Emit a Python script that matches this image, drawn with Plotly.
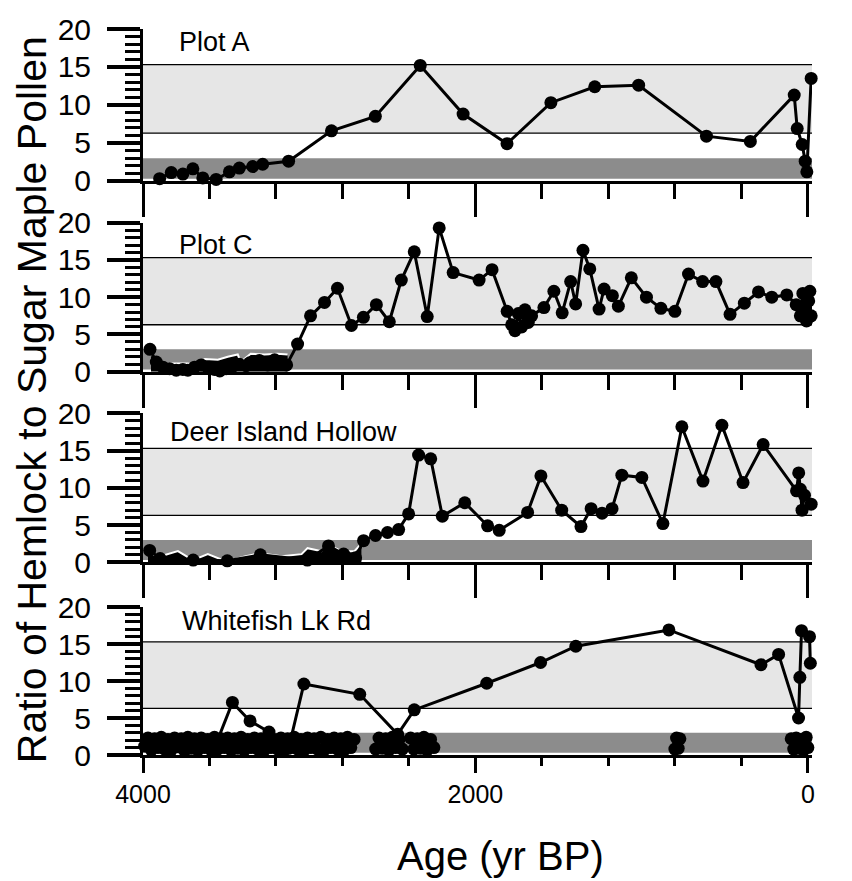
import plotly.graph_objects as go

# ---------------- data ----------------
panel_names = ["Plot A", "Plot C", "Deer Island Hollow", "Whitefish Lk Rd"]

a_age = [3900, 3830, 3760, 3700, 3640, 3560, 3480, 3420, 3340, 3280, 3124, 2866, 2602, 2332,
         2074, 1810, 1546, 1282, 1018, 610, 346, 82, 64, 34, 16, 6, -20]
a_val = [0.3, 1.1, 0.9, 1.6, 0.4, 0.2, 1.2, 1.7, 1.9, 2.2, 2.6, 6.6, 8.5, 15.2,
         8.8, 4.9, 10.3, 12.4, 12.6, 5.9, 5.2, 11.3, 6.9, 4.8, 2.6, 1.2, 13.5]

c_age = [3958, 3920, 3880, 3840, 3800, 3760, 3730, 3690, 3650, 3610, 3570, 3538, 3500, 3460,
         3420, 3380, 3358, 3300, 3250, 3208, 3170, 3136, 3070, 2992, 2908, 2830, 2746, 2674,
         2596, 2518, 2446, 2368, 2290, 2218, 2134, 1978, 1900, 1809, 1782, 1762, 1742, 1722,
         1702, 1682, 1662, 1588, 1528, 1478, 1427, 1397, 1353, 1312, 1256, 1226, 1176, 1140,
         1062, 971, 884, 800, 718, 633, 553, 468, 382, 297, 217, 127, 70, 45, 30, 18, 8,
         -5, -12, -20]
c_val = [3.0, 1.3, 0.6, 0.4, 0.2, 0.3, 0.2, 0.6, 0.9, 0.5, 0.3, 0.1, 0.4, 0.7,
         1.0, 0.8, 1.2, 1.5, 0.9, 1.6, 1.0, 0.9, 3.7, 7.5, 9.3, 11.2, 6.2, 7.3,
         9.0, 6.7, 12.3, 16.1, 7.4, 19.3, 13.3, 12.3, 13.7, 8.1, 6.3, 5.5, 7.8, 6.0,
         8.3, 6.6, 7.5, 8.6, 10.8, 7.9, 12.1, 9.1, 16.3, 13.8, 8.4, 11.1, 10.2, 8.8,
         12.6, 10.0, 8.5, 8.1, 13.1, 12.1, 12.1, 7.7, 9.2, 10.7, 10.0, 10.3, 9.0, 7.5, 10.5, 8.0, 6.8,
         9.5, 10.8, 7.5]
# upper edge of the dark trace in the early part of Plot C
c_env_age = [3952, 3880, 3730, 3682, 3628, 3550, 3490, 3430, 3412, 3352, 3268, 3190, 3130]
c_env_val = [2.3, 1.1, 1.1, 0.9, 1.7, 1.6, 2.0, 2.3, 1.3, 2.4, 2.3, 2.4, 2.3]

d_age = [3960, 3897, 3698, 3493, 3294, 3011, 2884, 2793, 2721, 2673, 2601, 2529, 2462, 2402,
         2342, 2269, 2199, 2064, 1927, 1857, 1686, 1606, 1481, 1365, 1304, 1238, 1178, 1119,
         999, 872, 758, 631, 517, 390, 269, 68, 55, 45, 35, 20, -20]
d_val = [1.6, 0.5, 0.3, 0.2, 1.0, 0.3, 2.2, 1.1, 0.6, 2.9, 3.6, 4.0, 4.4, 6.5,
         14.4, 13.9, 6.2, 8.0, 4.9, 4.3, 6.7, 11.6, 7.0, 4.8, 7.2, 6.6, 7.2, 11.7,
         11.4, 5.2, 18.2, 10.9, 18.4, 10.7, 15.8, 9.6, 12.0, 9.8, 7.0, 9.0, 7.8]
d_env_age = [3970, 3898, 3790, 3700, 3610, 3496, 3388, 3298, 3166, 3046, 3010, 2926, 2890,
             2806, 2728, 2686]
d_env_val = [1.2, 0.8, 1.5, 0.3, 1.1, 0.1, 0.8, 1.2, 0.8, 1.1, 1.9, 1.5, 2.4,
             1.5, 1.5, 2.5]

w_age = [3560, 3462, 3356, 3242, 3124, 3032, 2696, 2468, 2368, 1932, 1608, 1396, 836, 282,
         176, 56, 48, 38, -10, -15]
w_val = [1.5, 7.1, 4.6, 3.1, 0.9, 9.6, 8.2, 2.8, 6.1, 9.7, 12.5, 14.7, 16.9, 12.2,
         13.6, 5.0, 10.5, 16.8, 16.0, 12.4]

# Whitefish Lk Rd: dense low-ratio samples (None separates runs)
wd_age = [3990, 3970, 3950, 3930, 3910, 3890, 3870, 3850, 3830, 3810, 3790, 3770, 3750, 3730,
          3710, 3690, 3670, 3650, 3630, 3610, 3590, 3570, 3550, 3530, 3510, 3490, 3470, 3450,
          3430, 3410, 3390, 3370, 3350, 3330, 3310, 3290, 3270, 3250, 3230, 3210, 3190, 3170,
          3150, 3130, 3110, 3090, 3070, 3050, 3030, 3010, 2990, 2970, 2950, 2930, 2910, 2890,
          2870, 2850, 2830, 2810, 2790, 2770, 2750, 2730, None,
          2600, 2580, 2560, 2540, 2520, 2500, 2480, 2460, 2440, None,
          2390, 2370, 2350, 2330, 2310, 2290, 2270, 2250, None,
          800, 790, 780, 770, None,
          100, 85, 70, 55, 40, 25, 10, 0]
wd_val = [1.2, 2.3, 0.7, 2.2, 1.0, 2.4, 0.8, 2.1, 0.7, 2.3, 1.1, 2.2, 0.6, 2.4,
          0.9, 2.2, 0.7, 2.3, 1.0, 2.1, 0.7, 2.4, 0.8, 2.2, 1.0, 2.3, 0.7, 2.2,
          0.9, 2.4, 0.7, 2.1, 1.0, 2.3, 0.8, 2.2, 0.7, 2.4, 1.0, 2.1, 0.8, 2.3,
          0.7, 2.2, 1.0, 2.4, 0.8, 2.1, 0.7, 2.3, 1.0, 2.2, 0.8, 2.4, 0.7, 2.1,
          1.0, 2.3, 0.8, 2.2, 0.7, 2.4, 1.0, 2.1, None,
          0.8, 2.3, 0.9, 2.2, 0.7, 2.4, 1.0, 2.1, 0.8, None,
          2.3, 0.8, 2.2, 0.9, 2.4, 0.7, 2.1, 1.0, None,
          0.8, 2.3, 0.9, 2.2, None,
          2.2, 0.8, 2.3, 0.9, 2.1, 0.7, 2.4, 1.0]

series = [(a_age, a_val), (c_age, c_val), (d_age, d_val), (w_age, w_val)]
envelopes = {1: (c_env_age, c_env_val), 2: (d_env_age, d_env_val)}

y_ticks = [0, 5, 10, 15, 20]
x_ticks = [4000, 2000, 0]
x_tick_labels = ["4000", "2000", "0"]

band_light = (6.3, 15.3)
band_dark = (0.3, 3.0)

# ---------------- figure ----------------
FONT = "Liberation Sans, Arial, Helvetica, sans-serif"
fig = go.Figure()

domains = [[0.7907, 1.0], [0.528, 0.7332], [0.2654, 0.4706], [0.0, 0.2038]]
label_y = [0.915, 0.85, 0.873, 0.906]
label_x = [0.051, 0.051, 0.037, 0.055]

mk = dict(color="black", size=13)
for i, (ages, vals) in enumerate(series):
    n = i + 1
    xa = "x" if n == 1 else f"x{n}"
    ya = "y" if n == 1 else f"y{n}"
    if i in envelopes:
        ea, ev = envelopes[i]
        fig.add_trace(go.Scatter(x=ea, y=ev, mode="lines", xaxis=xa, yaxis=ya,
                                 fill="tozeroy", fillcolor="black",
                                 line=dict(color="white", width=2),
                                 showlegend=False, hoverinfo="skip"))
    fig.add_trace(go.Scatter(x=ages, y=vals, mode="lines+markers", xaxis=xa, yaxis=ya,
                             line=dict(color="black", width=3), marker=mk,
                             showlegend=False, cliponaxis=False))
    if n == 4:
        fig.add_trace(go.Scatter(x=wd_age, y=wd_val, mode="lines+markers", xaxis=xa, yaxis=ya,
                                 line=dict(color="black", width=3), marker=mk,
                                 connectgaps=False, showlegend=False, cliponaxis=False))

layout = dict(width=852, height=881, plot_bgcolor="white", paper_bgcolor="white",
              margin=dict(l=143, r=40, t=24, b=126), showlegend=False,
              font=dict(family=FONT, color="black"))

shapes = []
annotations = []
for i in range(4):
    n = i + 1
    sx = "" if n == 1 else str(n)
    bottom = (n == 4)
    layout[f"xaxis{sx}"] = dict(
        domain=[0, 1], anchor=f"y{sx}", range=[4000, -25],
        showline=True, linewidth=3, linecolor="black", mirror=False,
        ticks="outside", tickmode="array", tickvals=x_ticks, ticktext=x_tick_labels,
        ticklen=15 if bottom else 33, tickwidth=3, tickcolor="black",
        minor=dict(tickmode="linear", tick0=0, dtick=400, ticks="outside",
                   ticklen=8 if bottom else 15, tickwidth=3, tickcolor="black"),
        showticklabels=bottom, tickfont=dict(size=25, family=FONT),
        showgrid=False, zeroline=False)
    layout[f"yaxis{sx}"] = dict(
        domain=domains[i], anchor=f"x{sx}", range=[0, 20],
        showline=True, linewidth=3, linecolor="black",
        ticks="outside", tickmode="array", tickvals=y_ticks,
        ticklen=33, tickwidth=4, tickcolor="black",
        minor=dict(tickmode="linear", tick0=0, dtick=1, ticks="outside",
                   ticklen=15, tickwidth=2.5, tickcolor="black"),
        tickfont=dict(size=30, family=FONT), ticklabelstandoff=10,
        showgrid=False, zeroline=False)
    layout[f"yaxis{n + 4}"] = dict(
        overlaying=f"y{sx}", anchor=f"x{sx}", side="right", range=[0, 20],
        showline=True, linewidth=3, linecolor="black",
        ticks="outside", tickmode="array", tickvals=y_ticks,
        ticklen=38, tickwidth=4, tickcolor="black",
        minor=dict(tickmode="linear", tick0=0, dtick=1, ticks="outside",
                   ticklen=20, tickwidth=3, tickcolor="black"),
        showticklabels=False, showgrid=False, zeroline=False)

    xd = f"x{sx} domain"
    yr = f"y{sx}"
    shapes.append(dict(type="rect", xref=xd, yref=yr, x0=0, x1=1,
                       y0=band_light[0], y1=band_light[1], fillcolor="#e6e6e6",
                       line=dict(width=0), layer="below"))
    shapes.append(dict(type="rect", xref=xd, yref=yr, x0=0, x1=1,
                       y0=band_dark[0], y1=band_dark[1], fillcolor="#8c8c8c",
                       line=dict(width=0), layer="below"))
    for yv in band_light:
        shapes.append(dict(type="line", xref=xd, yref=yr, x0=0, x1=1, y0=yv, y1=yv,
                           line=dict(color="black", width=1.3), layer="below"))
    annotations.append(dict(text=panel_names[i], xref="paper", yref=f"y{sx} domain",
                            x=label_x[i], y=label_y[i], xanchor="left", yanchor="middle",
                            showarrow=False, font=dict(size=27, family=FONT)))

annotations.append(dict(text="Ratio of Hemlock to Sugar Maple Pollen", xref="paper", yref="paper",
                        x=-0.166, y=0.49, textangle=-90, showarrow=False,
                        xanchor="center", yanchor="middle", font=dict(size=41, family=FONT)))
annotations.append(dict(text="Age (yr BP)", xref="paper", yref="paper",
                        x=0.534, y=-0.1395, showarrow=False,
                        xanchor="center", yanchor="middle", font=dict(size=40, family=FONT)))

layout["shapes"] = shapes
layout["annotations"] = annotations
fig.update_layout(**layout)
fig.write_html("out.html", config={"displayModeBar": False},
               post_script="document.body.style.margin='0';document.body.style.overflow='hidden';")
